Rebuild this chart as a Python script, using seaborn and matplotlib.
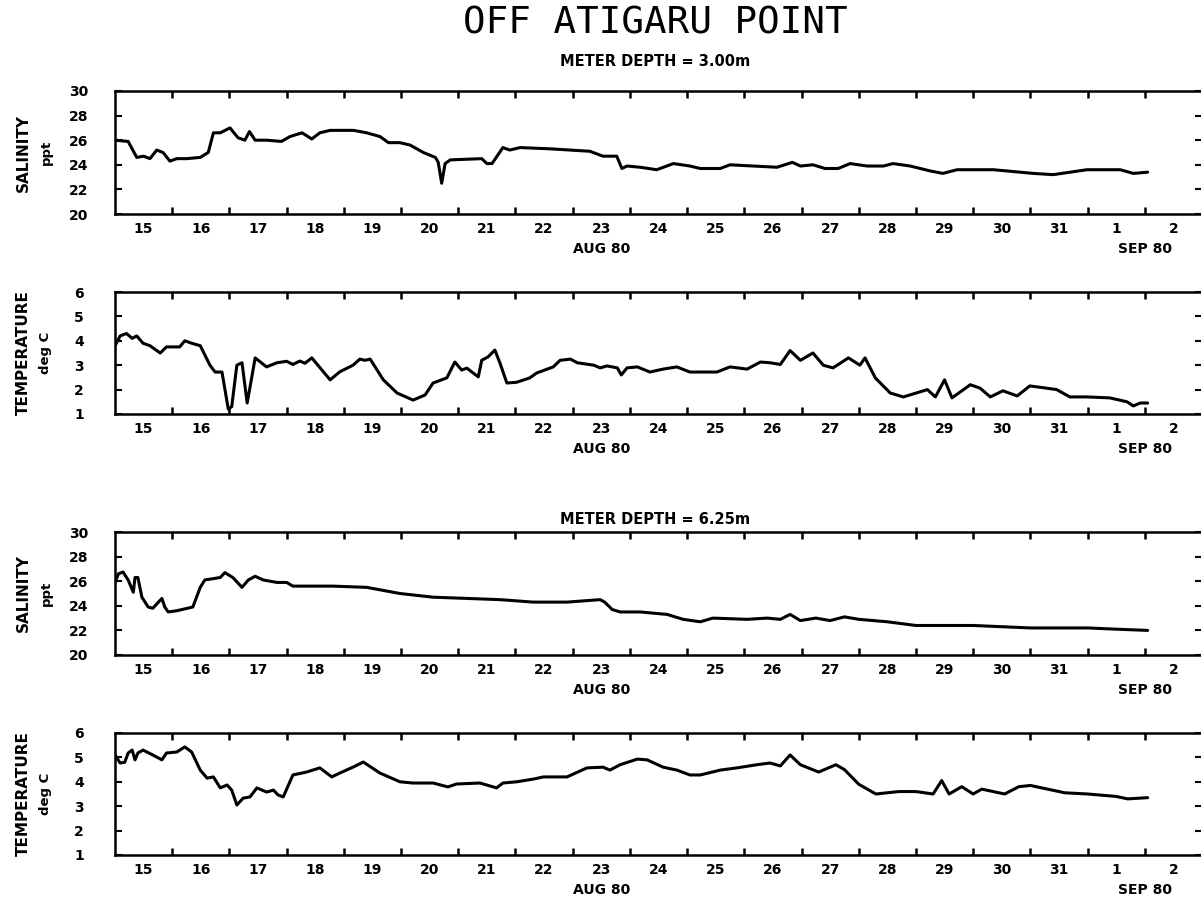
import numpy as np
import pandas as pd
import matplotlib
matplotlib.use("Agg")
import matplotlib.pyplot as plt
import seaborn as sns

# time axis: days since 15 Aug 1980 00:00
sal3_day = [0.0, 0.23, 0.38, 0.5, 0.61, 0.73, 0.84, 0.96, 1.08, 1.25, 1.49, 1.63, 1.72, 1.84, 2.01,
            2.15, 2.27, 2.35, 2.45, 2.65, 2.91, 3.06, 3.27, 3.44, 3.58, 3.76, 4.17, 4.4, 4.63, 4.78,
            4.98, 5.16, 5.39, 5.6, 5.65, 5.71, 5.77, 5.86, 6.41, 6.5, 6.59, 6.78, 6.9, 7.08, 7.6,
            8.3, 8.53, 8.77, 8.86, 8.95, 9.18, 9.47, 9.76, 10.05, 10.23, 10.58, 10.75, 11.57, 11.84,
            11.98, 12.2, 12.41, 12.64, 12.85, 13.15, 13.43, 13.6, 13.9, 14.25, 14.47, 14.72, 15.35,
            15.59, 16.05, 16.4, 16.99, 17.57, 17.8, 18.05]
sal3_val = [26.0, 25.9, 24.6, 24.7, 24.5, 25.2, 25.0, 24.3, 24.5, 24.5, 24.6, 25.0, 26.6, 26.6, 27.0,
            26.2, 26.0, 26.7, 26.0, 26.0, 25.9, 26.3, 26.6, 26.1, 26.6, 26.8, 26.8, 26.6, 26.3, 25.8,
            25.8, 25.6, 25.0, 24.6, 24.2, 22.5, 24.1, 24.4, 24.5, 24.1, 24.1, 25.4, 25.2, 25.4, 25.3,
            25.1, 24.7, 24.7, 23.7, 23.9, 23.8, 23.6, 24.1, 23.9, 23.7, 23.7, 24.0, 23.8, 24.2,
            23.9, 24.0, 23.7, 23.7, 24.1, 23.9, 23.9, 24.1, 23.9, 23.5, 23.3, 23.6, 23.6,
            23.5, 23.3, 23.2, 23.6, 23.6, 23.3, 23.4]

tmp3_day = [0.0, 0.09, 0.2, 0.3, 0.38, 0.49, 0.61, 0.79, 0.9, 1.13, 1.22, 1.34, 1.49, 1.66, 1.75,
            1.87, 1.98, 2.04, 2.13, 2.22, 2.31, 2.36, 2.45, 2.65, 2.83, 3.0, 3.11, 3.23, 3.32, 3.44,
            3.76, 3.93, 4.16, 4.28, 4.37, 4.46, 4.69, 4.93, 5.21, 5.42, 5.56, 5.8, 5.94, 6.06, 6.15,
            6.35, 6.41, 6.52, 6.64, 6.73, 6.85, 7.02, 7.25, 7.37, 7.66, 7.78, 7.96, 8.08, 8.37, 8.48,
            8.6, 8.78, 8.85, 8.95, 9.13, 9.35, 9.58, 9.82, 10.05, 10.52, 10.75, 11.05, 11.28, 11.45,
            11.63, 11.8, 11.98, 12.2, 12.38, 12.55, 12.82, 13.02, 13.11, 13.29, 13.55, 13.78, 14.2,
            14.34, 14.5, 14.63, 14.95, 15.12, 15.3, 15.52, 15.77, 15.99, 16.28, 16.46, 16.69, 16.99,
            17.39, 17.69, 17.8, 17.92, 18.05]
tmp3_val = [3.8, 4.2, 4.3, 4.1, 4.2, 3.9, 3.8, 3.5, 3.75, 3.75, 4.0, 3.9, 3.8, 3.0, 2.72,
            2.72, 1.2, 1.3, 3.0, 3.1, 1.45, 2.1, 3.3, 2.93, 3.1, 3.16, 3.03, 3.17, 3.08, 3.3,
            2.4, 2.73, 3.0, 3.25, 3.2, 3.25, 2.4, 1.86, 1.57, 1.78, 2.27, 2.48, 3.13, 2.8, 2.88,
            2.52, 3.2, 3.34, 3.62, 3.08, 2.27, 2.3, 2.48, 2.68, 2.93, 3.2, 3.25, 3.1, 3.0, 2.89,
            2.97, 2.89, 2.6, 2.89, 2.93, 2.72, 2.84, 2.93, 2.72, 2.72, 2.93, 2.84, 3.13, 3.1,
            3.03, 3.6, 3.2, 3.5, 3.0, 2.89, 3.3, 3.0, 3.3, 2.48, 1.86, 1.7, 2.0,
            1.7, 2.4, 1.66, 2.2, 2.06, 1.7, 1.95, 1.74, 2.15, 2.06, 2.0, 1.7, 1.7,
            1.66, 1.5, 1.33, 1.45, 1.45]

sal6_day = [0.0, 0.06, 0.14, 0.23, 0.32, 0.35, 0.4, 0.47, 0.58, 0.66, 0.82, 0.87, 0.93, 1.08, 1.36,
            1.49, 1.57, 1.84, 1.92, 2.06, 2.22, 2.33, 2.45, 2.59, 2.83, 3.0, 3.11, 3.81, 4.4, 4.98,
            5.56, 6.15, 6.73, 7.31, 7.9, 8.48, 8.56, 8.69, 8.83, 9.18, 9.65, 9.93, 10.23, 10.45,
            11.05, 11.4, 11.63, 11.8, 11.98, 12.25, 12.5, 12.75, 13.0, 13.5, 14.0, 14.5, 15.0,
            15.5, 16.0, 16.5, 17.0, 17.5, 18.05]
sal6_val = [25.9, 26.6, 26.75, 26.1, 25.1, 26.3, 26.3, 24.7, 23.9, 23.8, 24.6, 23.9, 23.5, 23.6, 23.9,
            25.5, 26.1, 26.3, 26.7, 26.3, 25.5, 26.1, 26.4, 26.1, 25.9, 25.9, 25.6, 25.6, 25.5, 25.0,
            24.7, 24.6, 24.5, 24.3, 24.3, 24.5, 24.3, 23.7, 23.5, 23.5, 23.3, 22.9, 22.7, 23.0,
            22.9, 23.0, 22.9, 23.3, 22.8, 23.0, 22.8, 23.1, 22.9, 22.7, 22.4, 22.4, 22.4,
            22.3, 22.2, 22.2, 22.2, 22.1, 22.0]

tmp6_day = [0.0, 0.09, 0.17, 0.23, 0.3, 0.35, 0.4, 0.49, 0.66, 0.82, 0.9, 1.08, 1.22, 1.34, 1.49,
            1.61, 1.72, 1.84, 1.96, 2.04, 2.13, 2.24, 2.36, 2.48, 2.65, 2.77, 2.85, 2.94, 3.11, 3.35,
            3.58, 3.79, 3.93, 4.16, 4.34, 4.63, 4.98, 5.21, 5.56, 5.82, 5.97, 6.38, 6.67, 6.78, 7.02,
            7.31, 7.49, 7.9, 8.25, 8.53, 8.65, 8.83, 9.13, 9.3, 9.58, 9.82, 10.05, 10.23, 10.58,
            10.87, 11.22, 11.45, 11.63, 11.8, 11.98, 12.3, 12.6, 12.75, 13.0, 13.3, 13.7, 14.0,
            14.3, 14.45, 14.58, 14.8, 15.0, 15.15, 15.35, 15.55, 15.8, 16.0, 16.3, 16.6, 17.0, 17.5,
            17.7, 18.05]
tmp6_val = [5.1, 4.77, 4.8, 5.18, 5.3, 4.9, 5.18, 5.3, 5.1, 4.9, 5.18, 5.22, 5.43, 5.22, 4.48,
            4.15, 4.2, 3.75, 3.87, 3.66, 3.05, 3.33, 3.38, 3.75, 3.58, 3.66, 3.46, 3.38, 4.28, 4.4,
            4.57, 4.2, 4.36, 4.6, 4.81, 4.36, 4.0, 3.95, 3.95, 3.79, 3.91, 3.95, 3.75, 3.95, 4.0,
            4.11, 4.2, 4.2, 4.57, 4.6, 4.48, 4.7, 4.93, 4.9, 4.6, 4.48, 4.28, 4.28, 4.48,
            4.57, 4.7, 4.77, 4.65, 5.1, 4.7, 4.4, 4.7, 4.5, 3.9, 3.5, 3.6, 3.6,
            3.5, 4.05, 3.5, 3.8, 3.5, 3.7, 3.6, 3.5, 3.8, 3.85, 3.7, 3.55, 3.5, 3.4,
            3.3, 3.35]

day_labels = ["15", "16", "17", "18", "19", "20", "21", "22", "23", "24", "25", "26", "27",
              "28", "29", "30", "31", "1", "2"]
sal_ticks = [20, 22, 24, 26, 28, 30]
tmp_ticks = [1, 2, 3, 4, 5, 6]

sns.set_style("ticks")
plt.rcParams['font.family'] = ['DejaVu Sans']
for key in ["text.color", "axes.labelcolor", "xtick.color", "ytick.color", "axes.edgecolor"]:
    plt.rcParams[key] = "black"

fig = plt.figure(figsize=(12.01, 9.0), dpi=100)
W, H = 1201.0, 900.0

def make_ax(top, bottom):
    return fig.add_axes([115 / W, 1 - bottom / H, (1202 - 115) / W, (bottom - top) / H])

panels = [
    (make_ax(91, 214), sal3_day, sal3_val, (20, 30), sal_ticks, "SALINITY", "ppt"),
    (make_ax(292, 414), tmp3_day, tmp3_val, (1, 6), tmp_ticks, "TEMPERATURE", "deg C"),
    (make_ax(532, 655), sal6_day, sal6_val, (20, 30), sal_ticks, "SALINITY", "ppt"),
    (make_ax(733, 855), tmp6_day, tmp6_val, (1, 6), tmp_ticks, "TEMPERATURE", "deg C"),
]

for ax, days, vals, ylim, yticks, lab1, lab2 in panels:
    df = pd.DataFrame({"day": days, "value": vals})
    sns.lineplot(data=df, x="day", y="value", ax=ax, color="black", linewidth=2.2, sort=False)
    ax.set_xlim(0, 19)
    ax.set_ylim(*ylim)
    ax.set_xlabel("")
    ax.set_ylabel("")
    ax.set_xticks(np.arange(1, 19))
    ax.set_xticklabels([])
    ax.set_xticks(np.arange(19) + 0.5, minor=True)
    ax.set_xticklabels(day_labels, minor=True, fontsize=10, fontweight="bold")
    ax.tick_params(axis="x", which="major", direction="in", length=5, width=1.8,
                   top=True, bottom=True)
    ax.tick_params(axis="x", which="minor", length=0, pad=6)
    ax.set_yticks(yticks)
    ax.set_yticklabels([str(t) for t in yticks], fontsize=10, fontweight="bold")
    ax.tick_params(axis="y", direction="in", length=5, width=1.5, left=True, right=True, pad=26)
    for lab in ax.get_yticklabels():
        lab.set_horizontalalignment("center")
    for sp in ax.spines.values():
        sp.set_visible(True)
        sp.set_linewidth(1.8)
    ax.annotate("AUG 80", xy=(8.5, 0), xycoords=("data", "axes fraction"),
                xytext=(0, -25), textcoords="offset points", ha="center", va="center",
                fontsize=10, fontweight="bold")
    ax.annotate("SEP 80", xy=(18.0, 0), xycoords=("data", "axes fraction"),
                xytext=(0, -25), textcoords="offset points", ha="center", va="center",
                fontsize=10, fontweight="bold")
    pos = ax.get_position()
    yc = pos.y0 + pos.height / 2
    fig.text(23 / W, yc, lab1, rotation=90, ha="center", va="center",
             fontsize=11, fontweight="bold")
    fig.text(46 / W, yc, lab2, rotation=90, ha="center", va="center",
             fontsize=9.5, fontweight="bold")

fig.text(655 / W, 1 - 23 / H, "OFF ATIGARU POINT", ha="center", va="center",
         fontsize=27, family="DejaVu Sans Mono")
fig.text(655 / W, 1 - 62 / H, "METER DEPTH = 3.00m", ha="center", va="center",
         fontsize=10.5, fontweight="bold")
fig.text(655 / W, 1 - 520 / H, "METER DEPTH = 6.25m", ha="center", va="center",
         fontsize=10.5, fontweight="bold")

fig.savefig("out.png", dpi=100, facecolor="white")
